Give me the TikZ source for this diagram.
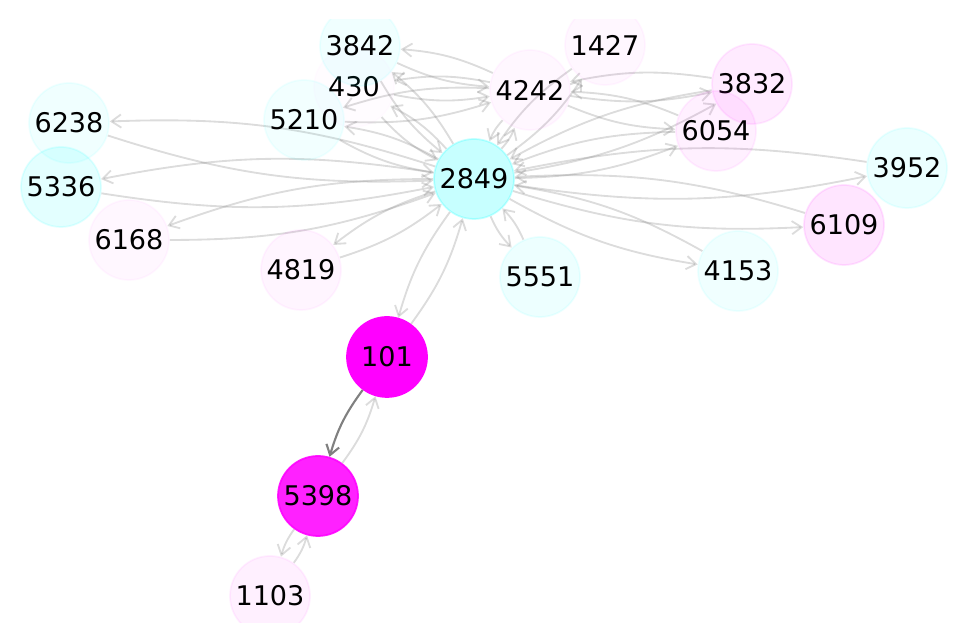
\documentclass[tikz,border=0pt]{standalone}
\usepackage{fontspec}
\setmainfont{DejaVu Sans}
\usetikzlibrary{arrows.meta}
\usetikzlibrary{backgrounds}
\definecolor{nodecyan}{RGB}{0,255,255}
\definecolor{nodepink}{RGB}{255,0,255}
\definecolor{edgegray}{RGB}{128,128,128}
\tikzset{
  graphnode/.style={circle, minimum size=1.6cm, inner sep=0pt, line width=1pt, font=\fontsize{15.4}{18}\selectfont, text opacity=1},
  cyannode/.style={graphnode, fill=nodecyan, draw=nodecyan, fill opacity=#1, draw opacity=#1},
  pinknode/.style={graphnode, fill=nodepink, draw=nodepink, fill opacity=#1, draw opacity=#1},
  lightedge/.style={draw=edgegray, draw opacity=0.28, line width=1.05pt, -{Straight Barb[length=5.5pt,width=7.5pt]}, bend right=10},
  darkedge/.style={lightedge, draw opacity=1, line width=1.2pt}
}
\begin{document}
\begin{tikzpicture}[x=0.02cm, y=0.02cm]
\useasboundingbox (0,0) rectangle (969,644);
\clip (0,21) rectangle (969,624);

% nodes, pixel positions measured from the bottom left
\node at (474,465) [cyannode=0.22] (n2849) {2849};
\node at (387,287) [pinknode=1] (n101) {101};
\node at (318,148) [pinknode=0.87] (n5398) {5398};
\node at (270,48) [pinknode=0.06] (n1103) {1103};
\node at (69,521) [cyannode=0.06] (n6238) {6238};
\node at (61,457) [cyannode=0.11] (n5336) {5336};
\node at (129,404) [pinknode=0.03] (n6168) {6168};
\node at (301,374) [pinknode=0.04] (n4819) {4819};
\node at (304,524) [cyannode=0.05] (n5210) {5210};
\node at (354,557) [pinknode=0.01] (n430) {430};
\node at (360,598) [cyannode=0.06] (n3842) {3842};
\node at (530,554) [pinknode=0.03] (n4242) {4242};
\node at (605,599) [pinknode=0.03] (n1427) {1427};
\node at (752,560) [pinknode=0.08] (n3832) {3832};
\node at (716,513) [pinknode=0.06] (n6054) {6054};
\node at (907,476) [cyannode=0.08] (n3952) {3952};
\node at (844,419) [pinknode=0.10] (n6109) {6109};
\node at (738,373) [cyannode=0.06] (n4153) {4153};
\node at (540,367) [cyannode=0.07] (n5551) {5551};

\begin{scope}[on background layer]
\foreach \a/\b in {n2849/n3842, n2849/n430, n2849/n5210, n2849/n6238, n2849/n5336, n2849/n6168,
    n2849/n4819, n2849/n101, n2849/n5551, n2849/n4153, n2849/n6109, n2849/n3952, n2849/n6054,
    n2849/n3832, n2849/n4242, n2849/n1427, n4242/n3842, n4242/n430, n4242/n5210, n4242/n3832,
    n4242/n6054, n5398/n1103}{
  \draw[lightedge] (\a) to (\b);
  \draw[lightedge] (\b) to (\a);
}
\draw[darkedge] (n101) to (n5398);
\draw[lightedge] (n5398) to (n101);
\end{scope}
\end{tikzpicture}
\end{document}
